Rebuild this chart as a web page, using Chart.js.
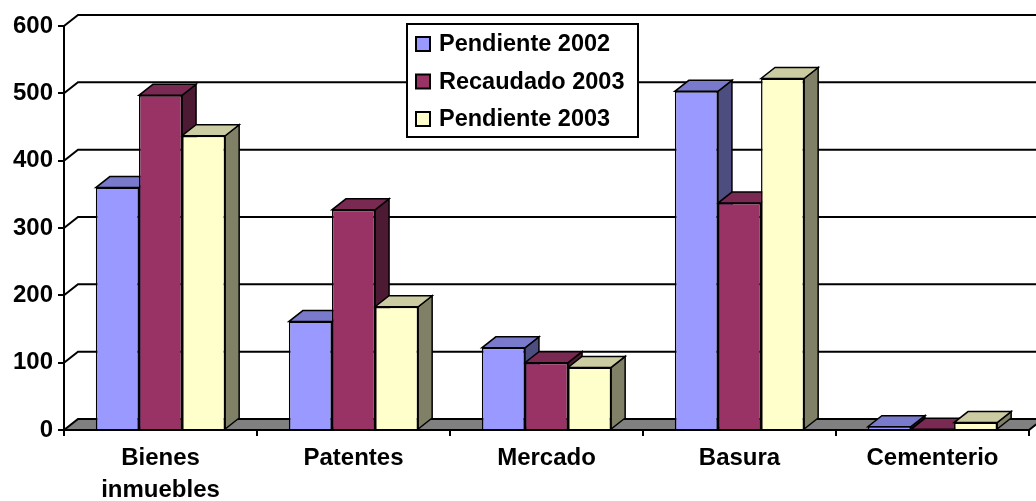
<!DOCTYPE html>
<html>
<head>
<meta charset="utf-8">
<script src="https://cdn.jsdelivr.net/npm/chart.js@4/dist/chart.umd.min.js"></script>
<style>
  html, body { margin: 0; padding: 0; background: #fff; }
</style>
</head>
<body>
<canvas id="chart" width="1036" height="501"></canvas>
<script>
// data
const categories = [["Bienes", "inmuebles"], "Patentes", "Mercado", "Basura", "Cementerio"];
const seriesNames = ["Pendiente 2002", "Recaudado 2003", "Pendiente 2003"];
const pendiente2002 = [360, 161, 122, 503, 5];
const recaudado2003 = [497, 327, 100, 337, 1];
const pendiente2003 = [437, 183, 93, 522, 11];
const yMax = 600;
const yStep = 100;

// front / top / side shades (excel 3d style)
const fronts = ["#9999FF", "#993366", "#FFFFCC"];
const tops = ["#7A7ACC", "#7A2952", "#CCCCA3"];
const sides = ["#4D4D80", "#4D1A33", "#808066"];

const DX = 14;
const DY = 11;
const FONT = "Arial, 'Liberation Sans', sans-serif";

function poly(ctx, pts, fill) {
  ctx.beginPath();
  ctx.moveTo(pts[0][0], pts[0][1]);
  for (let i = 1; i < pts.length; i++) ctx.lineTo(pts[i][0], pts[i][1]);
  ctx.closePath();
  if (fill) {
    ctx.fillStyle = fill;
    ctx.fill();
  }
  ctx.stroke();
}

const depthPlugin = {
  id: "depth",
  beforeDatasetsDraw(chart) {
    const { ctx, chartArea: a, scales } = chart;
    const y = scales.y;
    const W = chart.width;
    ctx.save();
    ctx.strokeStyle = "#000";
    ctx.lineWidth = 2;
    ctx.lineJoin = "miter";

    // back wall gridlines
    y.ticks.forEach((t) => {
      if (t.value === 0) return;
      const py = y.getPixelForValue(t.value);
      ctx.beginPath();
      ctx.moveTo(a.left, py);
      ctx.lineTo(a.left + DX, py - DY);
      ctx.lineTo(W + DX, py - DY);
      ctx.stroke();
    });

    // floor
    const b = y.getPixelForValue(0);
    poly(ctx, [[a.left, b], [a.right, b], [a.right + DX, b - DY], [W + DX, b - DY], [a.left + DX, b - DY]], "#808080");

    // top and side faces, left to right
    ctx.lineWidth = 1.5;
    const n = chart.data.labels.length;
    for (let i = 0; i < n; i++) {
      chart.data.datasets.forEach((ds, j) => {
        const el = chart.getDatasetMeta(j).data[i];
        const l = el.x - el.width / 2;
        const r = el.x + el.width / 2;
        const top = el.y;
        const base = el.base;
        poly(ctx, [[r, top], [r + DX, top - DY], [r + DX, base - DY], [r, base]], sides[j]);
        poly(ctx, [[l, top], [r, top], [r + DX, top - DY], [l + DX, top - DY]], tops[j]);
      });
    }
    ctx.restore();
  },
  afterDraw(chart) {
    // boxed legend inside the plot
    const { ctx } = chart;
    const bx = 407, by = 24, bw = 231, bh = 113;
    ctx.save();
    ctx.fillStyle = "#fff";
    ctx.strokeStyle = "#000";
    ctx.lineWidth = 2;
    ctx.fillRect(bx, by, bw, bh);
    ctx.strokeRect(bx, by, bw, bh);
    ctx.font = "bold 23.5px " + FONT;
    ctx.textBaseline = "middle";
    chart.data.datasets.forEach((ds, j) => {
      const cy = 44 + j * 37.5;
      ctx.fillStyle = ds.backgroundColor;
      ctx.fillRect(416, cy - 7, 14, 14);
      ctx.strokeRect(416, cy - 7, 14, 14);
      ctx.fillStyle = "#000";
      ctx.fillText(ds.label, 439, cy + 1);
    });
    ctx.restore();
  },
};

const datasets = [pendiente2002, recaudado2003, pendiente2003].map((vals, j) => ({
  label: seriesNames[j],
  data: vals,
  backgroundColor: fronts[j],
  borderColor: "#000",
  borderWidth: 1.5,
  categoryPercentage: 0.67,
  barPercentage: 1.0,
}));

new Chart(document.getElementById("chart"), {
  type: "bar",
  data: { labels: categories, datasets },
  plugins: [depthPlugin],
  options: {
    responsive: false,
    animation: false,
    layout: { padding: { top: 26, right: 7, left: 0, bottom: 0 } },
    plugins: {
      legend: { display: false },
      tooltip: { enabled: false },
    },
    scales: {
      x: {
        grid: {
          offset: true,
          drawOnChartArea: false,
          tickLength: 6,
          color: "#000",
          lineWidth: 2,
        },
        border: { display: true, color: "#000", width: 2 },
        ticks: {
          color: "#000",
          maxRotation: 0,
          autoSkip: false,
          padding: 6,
          font: { family: FONT, size: 24, weight: "bold", lineHeight: 1.33 },
        },
        afterFit(s) { s.height = 71; },
      },
      y: {
        min: 0,
        max: yMax,
        ticks: {
          stepSize: yStep,
          color: "#000",
          padding: 5,
          font: { family: FONT, size: 24, weight: "bold" },
        },
        grid: {
          drawOnChartArea: false,
          tickLength: 6,
          color: "#000",
          lineWidth: 2,
        },
        border: { display: true, color: "#000", width: 2 },
        afterFit(s) { s.width = 64; },
      },
    },
  },
});
</script>
</body>
</html>
